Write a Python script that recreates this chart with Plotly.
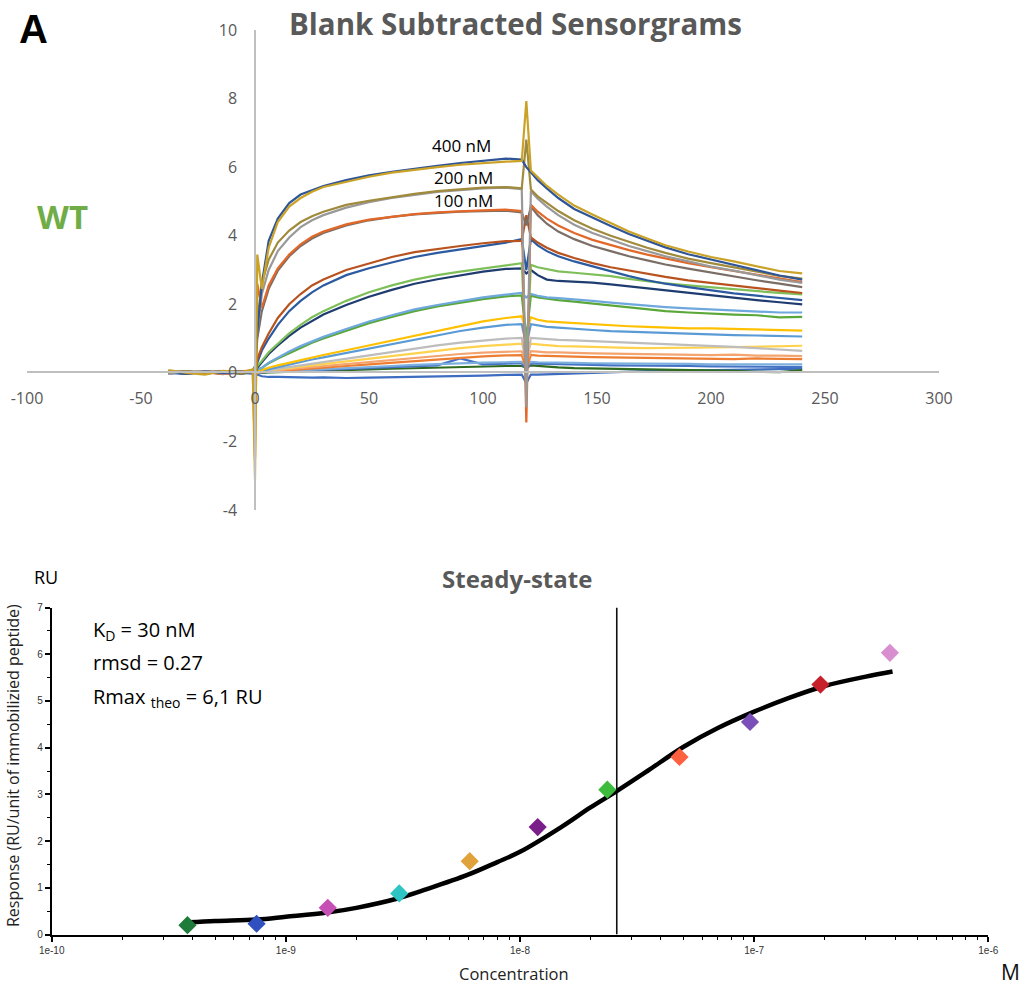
import plotly.graph_objects as go

# ---------------- Top panel: sensorgrams ----------------
T = [-38, -30, -22, -14, -6, -1, 0, 1, 3, 6, 10, 15, 20, 25, 30, 40, 50, 60, 70, 80, 90, 100,
     110, 117, 119, 121, 124, 128, 133, 140, 148, 156, 164, 172, 180, 190, 200, 210, 220, 230, 240]

# each curve: baseline(6), t0, t1, association(16), t119, dissociation(16)
c400a = [0.05, -0.02, 0.04, 0.0, 0.03, 0.05, 0.1, 1.2,
         2.6, 3.85, 4.5, 4.95, 5.2, 5.32, 5.45, 5.62, 5.76, 5.86, 5.96, 6.04, 6.12, 6.18, 6.25, 6.22,
         6.0,
         5.85, 5.62, 5.38, 5.1, 4.78, 4.52, 4.28, 4.05, 3.85, 3.66, 3.46, 3.3, 3.14, 2.98, 2.84, 2.72]
c400b = [0.08, 0.0, -0.05, 0.06, 0.02, 0.1, -3.1, 3.45,
         2.45, 3.65, 4.4, 4.85, 5.1, 5.28, 5.42, 5.58, 5.72, 5.84, 5.93, 6.0, 6.07, 6.12, 6.16, 6.18,
         7.93,
         5.9, 5.7, 5.45, 5.2, 4.88, 4.62, 4.38, 4.12, 3.92, 3.72, 3.54, 3.38, 3.25, 3.1, 2.97, 2.9]
c200a = [0.02, 0.05, -0.03, 0.04, 0.0, 0.08, 0.2, 1.5,
         2.6, 3.3, 3.8, 4.15, 4.4, 4.57, 4.7, 4.9, 5.02, 5.13, 5.22, 5.3, 5.35, 5.4, 5.42, 5.38,
         6.8,
         5.35, 5.15, 4.95, 4.72, 4.45, 4.2, 4.0, 3.82, 3.65, 3.5, 3.33, 3.2, 3.07, 2.95, 2.83, 2.75]
c200b = [-0.03, 0.03, 0.05, -0.02, 0.04, 0.02, 0.0, 1.2,
         2.3, 3.0, 3.55, 3.95, 4.25, 4.45, 4.6, 4.82, 4.98, 5.1, 5.2, 5.28, 5.33, 5.38, 5.4, 5.36,
         -1.0,
         5.3, 5.08, 4.85, 4.6, 4.32, 4.08, 3.88, 3.7, 3.55, 3.4, 3.25, 3.1, 2.98, 2.85, 2.72, 2.62]
c100a = [0.0, 0.04, 0.02, -0.04, 0.05, 0.06, -2.5, 2.6,
         1.9, 2.55, 3.05, 3.45, 3.75, 3.97, 4.12, 4.33, 4.47, 4.56, 4.63, 4.68, 4.72, 4.74, 4.76, 4.72,
         -1.45,
         4.9, 4.7, 4.5, 4.3, 4.08, 3.88, 3.72, 3.58, 3.45, 3.33, 3.2, 3.08, 2.97, 2.85, 2.75, 2.65]
c100b = [0.04, -0.02, 0.03, 0.05, -0.03, 0.04, 0.1, 1.0,
         1.8, 2.45, 2.98, 3.4, 3.7, 3.92, 4.08, 4.3, 4.45, 4.55, 4.62, 4.67, 4.7, 4.72, 4.73, 4.68,
         4.3,
         4.85, 4.6, 4.35, 4.12, 3.9, 3.7, 3.55, 3.4, 3.28, 3.16, 3.04, 2.92, 2.8, 2.7, 2.6, 2.5]
c50a = [0.03, 0.0, 0.05, -0.02, 0.02, 0.05, 0.05, 0.4,
        0.75, 1.15, 1.6, 2.0, 2.3, 2.55, 2.72, 3.0, 3.2, 3.38, 3.52, 3.62, 3.7, 3.78, 3.84, 3.85,
        4.6,
        3.95, 3.8, 3.65, 3.5, 3.35, 3.2, 3.08, 2.98, 2.88, 2.8, 2.7, 2.62, 2.55, 2.47, 2.4, 2.33]
c50b = [-0.02, 0.04, 0.0, 0.03, 0.05, 0.0, 0.0, 0.3,
        0.65, 1.0, 1.4, 1.8, 2.1, 2.35, 2.55, 2.85, 3.05, 3.22, 3.38, 3.5, 3.6, 3.7, 3.8, 3.9,
        3.0,
        3.9, 3.72, 3.55, 3.4, 3.25, 3.1, 2.95, 2.82, 2.7, 2.6, 2.5, 2.4, 2.32, 2.25, 2.18, 2.12]
c25a = [0.0, 0.03, -0.02, 0.04, 0.02, 0.03, 0.0, 0.2,
        0.35, 0.6, 0.85, 1.15, 1.4, 1.62, 1.8, 2.1, 2.35, 2.55, 2.72, 2.85, 2.95, 3.05, 3.15, 3.2,
        0.3,
        3.15, 3.08, 3.02, 2.96, 2.92, 2.88, 2.82, 2.74, 2.67, 2.61, 2.55, 2.49, 2.43, 2.38, 2.33, 2.29]
c25b = [0.02, -0.03, 0.04, 0.0, 0.03, 0.02, 0.0, 0.15,
        0.3, 0.55, 0.8, 1.08, 1.32, 1.52, 1.7, 1.98, 2.22, 2.42, 2.6, 2.73, 2.85, 2.95, 3.03, 3.05,
        2.9,
        3.0, 2.85, 2.72, 2.68, 2.66, 2.63, 2.58, 2.52, 2.46, 2.4, 2.33, 2.26, 2.18, 2.12, 2.06, 2.0]
c12a = [0.03, 0.0, 0.02, -0.03, 0.04, 0.02, 0.0, 0.1,
        0.15, 0.3, 0.45, 0.62, 0.78, 0.92, 1.05, 1.28, 1.5, 1.68, 1.85, 1.98, 2.1, 2.2, 2.28, 2.33,
        2.2,
        2.3, 2.25, 2.2, 2.18, 2.15, 2.1, 2.05, 2.0, 1.96, 1.92, 1.88, 1.85, 1.82, 1.79, 1.76, 1.76]
c12b = [0.0, 0.03, 0.01, 0.04, -0.02, 0.03, 0.0, 0.1,
        0.14, 0.28, 0.42, 0.58, 0.74, 0.88, 1.0, 1.23, 1.45, 1.63, 1.8, 1.94, 2.05, 2.15, 2.23, 2.26,
        1.0,
        2.25, 2.2, 2.16, 2.12, 2.08, 2.02, 1.96, 1.9, 1.85, 1.8, 1.76, 1.72, 1.7, 1.68, 1.62, 1.63]
c6a = [0.04, 0.0, 0.03, 0.02, -0.02, 0.03, 0.0, 0.05,
       0.08, 0.15, 0.22, 0.3, 0.38, 0.45, 0.52, 0.66, 0.8, 0.95, 1.1, 1.24, 1.38, 1.5, 1.6, 1.65,
       1.2,
       1.62, 1.55, 1.5, 1.48, 1.45, 1.42, 1.4, 1.36, 1.34, 1.32, 1.3, 1.3, 1.28, 1.26, 1.24, 1.23]
c6b = [0.02, 0.05, 0.0, 0.03, 0.02, 0.0, 0.0, 0.03,
       0.06, 0.12, 0.18, 0.25, 0.32, 0.39, 0.45, 0.58, 0.72, 0.85, 0.98, 1.1, 1.22, 1.32, 1.4, 1.42,
       0.8,
       1.42, 1.38, 1.34, 1.32, 1.28, 1.25, 1.22, 1.2, 1.18, 1.16, 1.14, 1.12, 1.1, 1.09, 1.07, 1.06]
c3a = [0.0, 0.03, 0.04, 0.0, 0.02, 0.03, 0.0, 0.02,
       0.04, 0.08, 0.12, 0.17, 0.22, 0.27, 0.32, 0.42, 0.52, 0.62, 0.72, 0.8, 0.88, 0.95, 1.0, 1.02,
       0.2,
       1.02, 1.0, 0.98, 0.96, 0.95, 0.92, 0.9, 0.88, 0.86, 0.84, 0.82, 0.8, 0.76, 0.72, 0.68, 0.64]
c3b = [0.03, 0.0, 0.02, 0.04, 0.0, 0.02, 0.0, 0.02,
       0.03, 0.07, 0.1, 0.14, 0.18, 0.22, 0.26, 0.34, 0.42, 0.5, 0.58, 0.65, 0.72, 0.78, 0.83, 0.85,
       0.5,
       0.85, 0.83, 0.8, 0.78, 0.77, 0.75, 0.74, 0.73, 0.72, 0.72, 0.73, 0.74, 0.75, 0.76, 0.78, 0.79]
c1a = [0.02, 0.04, 0.0, 0.02, 0.03, 0.01, 0.0, 0.02,
       0.03, 0.05, 0.08, 0.11, 0.14, 0.17, 0.2, 0.26, 0.32, 0.38, 0.44, 0.5, 0.55, 0.59, 0.62, 0.63,
       0.3,
       0.63, 0.62, 0.6, 0.6, 0.58, 0.57, 0.56, 0.55, 0.54, 0.53, 0.52, 0.52, 0.53, 0.5, 0.5, 0.49]
c1b = [0.0, 0.02, 0.03, -0.02, 0.02, 0.04, 0.0, 0.02,
       0.02, 0.04, 0.06, 0.08, 0.1, 0.13, 0.15, 0.2, 0.25, 0.3, 0.35, 0.4, 0.44, 0.48, 0.51, 0.52,
       0.1,
       0.52, 0.5, 0.49, 0.48, 0.47, 0.46, 0.45, 0.44, 0.44, 0.43, 0.42, 0.41, 0.4, 0.42, 0.4, 0.4]
c08a = [0.02, 0.0, 0.03, 0.02, 0.0, 0.02, 0.0, 0.0,
        0.02, 0.03, 0.05, 0.06, 0.08, 0.1, 0.12, 0.15, 0.18, 0.2, 0.23, 0.26, 0.28, 0.3, 0.31, 0.32,
        0.2,
        0.32, 0.31, 0.3, 0.3, 0.29, 0.28, 0.28, 0.27, 0.27, 0.26, 0.26, 0.25, 0.25, 0.26, 0.25, 0.25]
c08b = [0.0, 0.03, 0.0, 0.02, 0.03, 0.0, 0.0, 0.0,
        0.02, 0.03, 0.04, 0.05, 0.07, 0.08, 0.1, 0.12, 0.15, 0.17, 0.2, 0.22, 0.42, 0.25, 0.27, 0.28,
        0.1,
        0.28, 0.27, 0.26, 0.25, 0.24, 0.23, 0.22, 0.22, 0.21, 0.2, 0.2, 0.19, 0.18, 0.18, 0.17, 0.17]
c04a = [0.03, 0.0, 0.02, 0.0, 0.02, 0.0, 0.0, 0.0,
        0.0, 0.01, 0.02, 0.03, 0.04, 0.05, 0.06, 0.08, 0.1, 0.12, 0.14, 0.16, 0.18, 0.19, 0.2, 0.2,
        0.15,
        0.22, 0.2, 0.18, 0.16, 0.14, 0.13, 0.12, 0.12, 0.1, 0.1, 0.09, 0.08, 0.06, 0.03, 0.02, 0.08]
c04b = [0.0, -0.03, 0.02, -0.02, 0.0, -0.02, 0.0, -0.05,
        -0.1, -0.12, -0.12, -0.13, -0.12, -0.14, -0.13, -0.15, -0.14, -0.13, -0.12, -0.12, -0.1, -0.08, -0.06, -0.05,
        -0.3,
        -0.05, -0.05, -0.04, -0.03, -0.02, 0.0, 0.02, 0.04, 0.05, 0.06, 0.07, 0.06, 0.08, 0.1, 0.1, 0.12]

# draw order: lowest first, top curves last
CURVES = [c04b, c04a, c08b, c08a, c1b, c1a, c3b, c3a, c6b, c6a, c12b, c12a,
          c25b, c25a, c50b, c50a, c100b, c100a, c200b, c200a, c400a, c400b]
COLORS = ["#3D6CC0", "#2F6B1F", "#4472C4", "#7CAFDD", "#ED7D31", "#F4A46E", "#FFD24D", "#BDBDBD",
          "#5B9BD5", "#FFC000", "#5AA73A", "#6FA8DC", "#1F3C70", "#7FBF5A", "#2C5AA0", "#B8531F",
          "#7A6E66", "#E2682A", "#999999", "#A08A3C", "#2F5597", "#C9A227"]

X_TICKS = [-100, -50, 0, 50, 100, 150, 200, 250, 300]
X_TICK_TEXT = ["-100", "-50", "0", "50", "100", "150", "200", "250", "300"]
Y_TICKS = [-4, -2, 0, 2, 4, 6, 8, 10]
Y_TICK_TEXT = ["-4", "-2", "0", "2", "4", "6", "8", "10"]

# ---------------- Bottom panel: steady state ----------------
PTS_X = [3.8e-10, 7.5e-10, 1.51e-9, 3.05e-9, 6.1e-9, 1.19e-8, 2.36e-8, 4.8e-8, 9.6e-8, 1.92e-7, 3.8e-7]
PTS_Y = [0.2, 0.23, 0.57, 0.88, 1.57, 2.3, 3.1, 3.8, 4.55, 5.35, 6.03]
PTS_COLORS = ["#1E7B3A", "#3050C0", "#C64FB5", "#2EC4C4", "#E0A23A", "#7A1F8A",
              "#3DBB3D", "#FF6040", "#7B4FB8", "#C8202A", "#D98FCF"]

FIT_X = [3.85e-10, 5e-10, 7.5e-10, 1e-9, 1.5e-9, 2e-9, 3e-9, 4e-9, 6e-9, 8e-9, 1e-8, 1.5e-8,
         2e-8, 2.59e-8, 3.5e-8, 5e-8, 7e-8, 1e-7, 1.4e-7, 2e-7, 3e-7, 3.9e-7]
FIT_Y = [0.26, 0.29, 0.32, 0.38, 0.47, 0.57, 0.77, 0.97, 1.28, 1.55, 1.77, 2.3,
         2.72, 3.07, 3.5, 4.02, 4.42, 4.77, 5.06, 5.32, 5.52, 5.63]

KD_LINE_X = 2.59e-8
LOG_TICKS = [1e-10, 1e-9, 1e-8, 1e-7, 1e-6]
LOG_TICK_TEXT = ["1e-10", "1e-9", "1e-8", "1e-7", "1e-6"]
MINOR_LOG = [k * 10.0 ** e for e in range(-10, -6) for k in range(2, 10)]

W, H = 1024, 986


def px(x):
    return x / W


def py(y):
    return 1 - y / H


fig = go.Figure()

for ys, col in zip(CURVES, COLORS):
    fig.add_trace(go.Scatter(x=T, y=ys, mode="lines", line=dict(color=col, width=2.2),
                             xaxis="x", yaxis="y", hoverinfo="skip", showlegend=False))

fig.add_trace(go.Scatter(x=[KD_LINE_X, KD_LINE_X], y=[0, 7], mode="lines",
                         line=dict(color="#111111", width=1.6), xaxis="x2", yaxis="y2",
                         showlegend=False, hoverinfo="skip"))
fig.add_trace(go.Scatter(x=FIT_X, y=FIT_Y, mode="lines", line=dict(color="black", width=4.5, shape="spline"),
                         xaxis="x2", yaxis="y2", showlegend=False))
fig.add_trace(go.Scatter(x=PTS_X, y=PTS_Y, mode="markers",
                         marker=dict(symbol="diamond", size=14, color=PTS_COLORS, line=dict(width=0)),
                         xaxis="x2", yaxis="y2", showlegend=False))

grey_axis = "#BFBFBF"
tick_grey = "#595959"

fig.update_layout(
    width=W, height=H, autosize=False,
    margin=dict(l=0, r=0, t=0, b=0, pad=0),
    paper_bgcolor="white", plot_bgcolor="rgba(0,0,0,0)",
    showlegend=False,
    xaxis=dict(domain=[px(27), px(939)], range=[-100, 300], tickvals=X_TICKS, ticktext=X_TICK_TEXT,
               automargin=False,
               showgrid=False, zeroline=False, showline=True, linecolor=grey_axis, linewidth=1.5,
               anchor="free", position=py(372),
               ticks="outside", ticklen=12, tickcolor="rgba(0,0,0,0)",
               tickfont=dict(family="Open Sans", size=16, color=tick_grey)),
    yaxis=dict(domain=[py(510), py(30)], range=[-4, 10], tickvals=Y_TICKS, ticktext=Y_TICK_TEXT,
               automargin=False,
               showgrid=False, zeroline=False, showline=True, linecolor=grey_axis, linewidth=1.5,
               anchor="free", position=px(255),
               ticks="outside", ticklen=14, tickcolor="rgba(0,0,0,0)",
               tickfont=dict(family="Open Sans", size=16, color=tick_grey)),
    xaxis2=dict(domain=[px(51.7), px(988.3)], type="log", range=[-10, -6], automargin=False,
                tickvals=LOG_TICKS, ticktext=LOG_TICK_TEXT,
                showgrid=False, zeroline=False, showline=True, linecolor="black", linewidth=2,
                anchor="y2", ticks="outside", ticklen=5, tickwidth=1.5, tickcolor="black",
                minor=dict(tickvals=MINOR_LOG, ticks="outside", ticklen=3, tickwidth=1,
                           tickcolor="black", showgrid=False),
                tickfont=dict(family="Liberation Sans", size=10, color="#333333")),
    yaxis2=dict(domain=[py(934.5), py(607.5)], range=[0, 7], dtick=1, automargin=False,
                showgrid=False, zeroline=False, showline=True, linecolor="black", linewidth=2,
                anchor="x2", ticks="outside", ticklen=5, tickwidth=1.5, tickcolor="black",
                minor=dict(dtick=0.5, ticks="outside", ticklen=3, tickwidth=1,
                           tickcolor="black", showgrid=False),
                tickfont=dict(family="Liberation Sans", size=10, color="#333333")),
)

ann = []


def add_text(text, x, y, size, color="black", family="Open Sans", xanchor="center", angle=0):
    ann.append(dict(text=text, x=px(x), y=py(y), xref="paper", yref="paper", showarrow=False,
                    xanchor=xanchor, yanchor="middle", textangle=angle,
                    font=dict(family=family, size=size, color=color)))


add_text("<b>A</b>", 33, 29, 40, "black", "Liberation Sans")
add_text("<b>WT</b>", 62, 217, 33, "#70AD47")
add_text("<b>Blank Subtracted Sensorgrams</b>", 515, 23, 29.5, "#595959")
add_text("400 nM", 461, 146, 17)
add_text("200 nM", 463, 178, 17)
add_text("100 nM", 463, 201, 17)

add_text("RU", 46, 577, 18)
add_text("<b>Steady-state</b>", 517, 578, 24, "#595959")
add_text("K<sub>D</sub> = 30 nM", 91, 630, 20, "black", xanchor="left")
add_text("rmsd = 0.27", 91, 662, 20, "black", xanchor="left")
add_text("Rmax <sub>theo</sub> = 6,1 RU", 91, 697, 20, "black", xanchor="left")
add_text("Response (RU/unit of immobilizied peptide)", 13, 766, 16, "#222222", angle=-90)
add_text("Concentration", 514, 973, 16.5, "#222222")
add_text("M", 1010, 972, 21, "#111111")

fig.update_layout(annotations=ann)

fig.write_html("out.html", config={"displayModeBar": False},
               post_script="document.body.style.margin='0';document.body.style.overflow='hidden';")
